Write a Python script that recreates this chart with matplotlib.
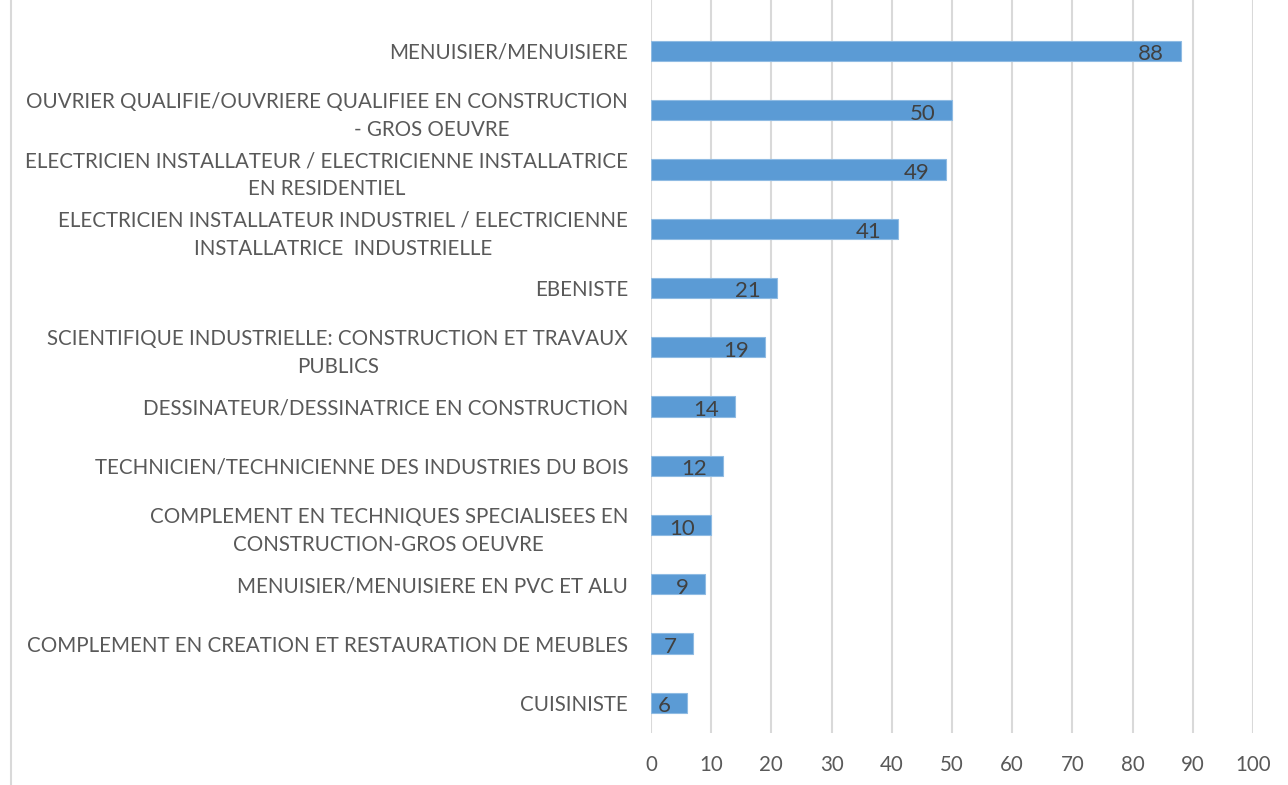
import matplotlib.pyplot as plt
from matplotlib.lines import Line2D

BAR_COLOR = "#5b9bd5"
TEXT_COLOR = "#595959"
VALUE_COLOR = "#404040"
GRID_COLOR = "#d9d9d9"

categories = [
    "MENUISIER/MENUISIERE",
    "OUVRIER QUALIFIE/OUVRIERE QUALIFIEE EN CONSTRUCTION\n" + " " * 40 + "- GROS OEUVRE",
    "ELECTRICIEN INSTALLATEUR / ELECTRICIENNE INSTALLATRICE\nEN RESIDENTIEL",
    "ELECTRICIEN INSTALLATEUR INDUSTRIEL / ELECTRICIENNE\nINSTALLATRICE  INDUSTRIELLE",
    "EBENISTE",
    "SCIENTIFIQUE INDUSTRIELLE: CONSTRUCTION ET TRAVAUX\nPUBLICS",
    "DESSINATEUR/DESSINATRICE EN CONSTRUCTION",
    "TECHNICIEN/TECHNICIENNE DES INDUSTRIES DU BOIS",
    "COMPLEMENT EN TECHNIQUES SPECIALISEES EN\nCONSTRUCTION-GROS OEUVRE",
    "MENUISIER/MENUISIERE EN PVC ET ALU",
    "COMPLEMENT EN CREATION ET RESTAURATION DE MEUBLES",
    "CUISINISTE",
]
values = [88, 50, 49, 41, 21, 19, 14, 12, 10, 9, 7, 6]
x_ticks = list(range(0, 101, 10))

plt.rcParams["font.family"] = ["Lato", "DejaVu Sans"]

fig = plt.figure(figsize=(12.88, 7.85), dpi=100)
ax = fig.add_axes([0.5054, 0.0662, 0.4674, 0.9338])

pos = list(range(len(categories)))
ax.barh(pos, values, height=0.34, color=BAR_COLOR, edgecolor="#8fbbe3",
        linewidth=0.8, zorder=3)

for p, v in zip(pos, values):
    ax.annotate(str(v), (v, p), xytext=(-12, -2.5), textcoords="offset points",
                ha="right", va="center", fontsize=16, color=VALUE_COLOR,
                zorder=4)

ax.set_xlim(0, 100)
ax.set_ylim(11.51, -0.86)
ax.set_xticks(x_ticks)
ax.set_yticks(pos)
ax.set_yticklabels(categories, multialignment="center", linespacing=1.5)

ax.grid(axis="x", color=GRID_COLOR, linewidth=1.5, zorder=0)
for s in ax.spines.values():
    s.set_visible(False)
ax.tick_params(axis="y", length=0, pad=16.5, labelsize=14.8, labelcolor=TEXT_COLOR)
ax.tick_params(axis="x", length=0, pad=16, labelsize=14.8, labelcolor=TEXT_COLOR)

# thin frame line on the left edge
fig.add_artist(Line2D([0.0085, 0.0085], [0, 1], transform=fig.transFigure,
                      color=GRID_COLOR, linewidth=1.5))

fig.savefig("out.png", dpi=100)
